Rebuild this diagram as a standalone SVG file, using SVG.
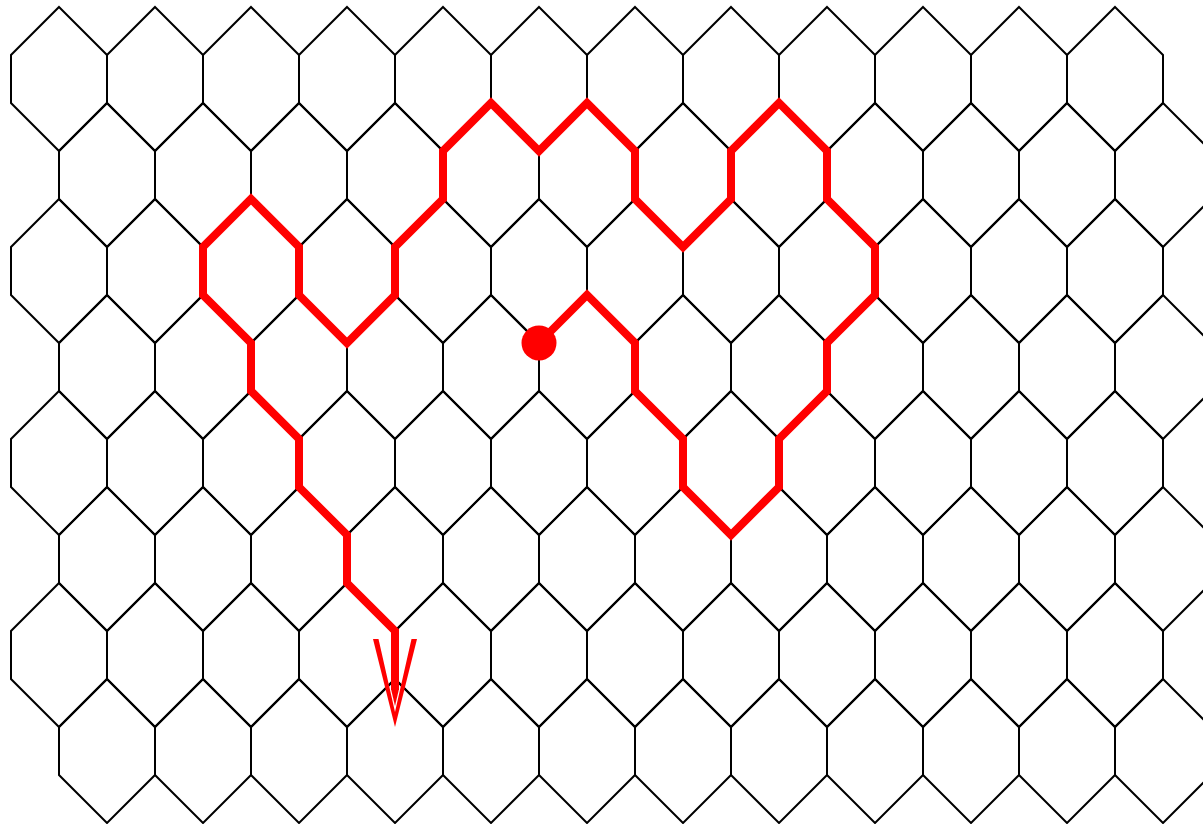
<svg xmlns="http://www.w3.org/2000/svg" xmlns:xlink="http://www.w3.org/1999/xlink" width="1203" height="824" viewBox="0 0 1203 824">
<style>
.hex{fill:none;stroke:#000;stroke-width:2;stroke-linejoin:miter}
.path{fill:none;stroke:#ff0000;stroke-width:8;stroke-linejoin:miter;stroke-miterlimit:10}
.head{fill:#ff0000;stroke:none}
</style>
<defs>
<path id="h" class="hex" d="M0,0 L48,48 L48,96 L0,144 L-48,96 L-48,48 Z"/>
</defs>
<rect width="1203" height="824" fill="#fff"/>
<g id="grid">
<g id="row0" transform="translate(59,7)">
<use xlink:href="#h" x="0"/><use xlink:href="#h" x="96"/><use xlink:href="#h" x="192"/><use xlink:href="#h" x="288"/><use xlink:href="#h" x="384"/><use xlink:href="#h" x="480"/><use xlink:href="#h" x="576"/><use xlink:href="#h" x="672"/><use xlink:href="#h" x="768"/><use xlink:href="#h" x="864"/><use xlink:href="#h" x="960"/><use xlink:href="#h" x="1056"/>
</g>
<g id="row1" transform="translate(107,103)">
<use xlink:href="#h" x="0"/><use xlink:href="#h" x="96"/><use xlink:href="#h" x="192"/><use xlink:href="#h" x="288"/><use xlink:href="#h" x="384"/><use xlink:href="#h" x="480"/><use xlink:href="#h" x="576"/><use xlink:href="#h" x="672"/><use xlink:href="#h" x="768"/><use xlink:href="#h" x="864"/><use xlink:href="#h" x="960"/><use xlink:href="#h" x="1056"/>
</g>
<g id="row2" transform="translate(59,199)">
<use xlink:href="#h" x="0"/><use xlink:href="#h" x="96"/><use xlink:href="#h" x="192"/><use xlink:href="#h" x="288"/><use xlink:href="#h" x="384"/><use xlink:href="#h" x="480"/><use xlink:href="#h" x="576"/><use xlink:href="#h" x="672"/><use xlink:href="#h" x="768"/><use xlink:href="#h" x="864"/><use xlink:href="#h" x="960"/><use xlink:href="#h" x="1056"/>
</g>
<g id="row3" transform="translate(107,295)">
<use xlink:href="#h" x="0"/><use xlink:href="#h" x="96"/><use xlink:href="#h" x="192"/><use xlink:href="#h" x="288"/><use xlink:href="#h" x="384"/><use xlink:href="#h" x="480"/><use xlink:href="#h" x="576"/><use xlink:href="#h" x="672"/><use xlink:href="#h" x="768"/><use xlink:href="#h" x="864"/><use xlink:href="#h" x="960"/><use xlink:href="#h" x="1056"/>
</g>
<g id="row4" transform="translate(59,391)">
<use xlink:href="#h" x="0"/><use xlink:href="#h" x="96"/><use xlink:href="#h" x="192"/><use xlink:href="#h" x="288"/><use xlink:href="#h" x="384"/><use xlink:href="#h" x="480"/><use xlink:href="#h" x="576"/><use xlink:href="#h" x="672"/><use xlink:href="#h" x="768"/><use xlink:href="#h" x="864"/><use xlink:href="#h" x="960"/><use xlink:href="#h" x="1056"/>
</g>
<g id="row5" transform="translate(107,487)">
<use xlink:href="#h" x="0"/><use xlink:href="#h" x="96"/><use xlink:href="#h" x="192"/><use xlink:href="#h" x="288"/><use xlink:href="#h" x="384"/><use xlink:href="#h" x="480"/><use xlink:href="#h" x="576"/><use xlink:href="#h" x="672"/><use xlink:href="#h" x="768"/><use xlink:href="#h" x="864"/><use xlink:href="#h" x="960"/><use xlink:href="#h" x="1056"/>
</g>
<g id="row6" transform="translate(59,583)">
<use xlink:href="#h" x="0"/><use xlink:href="#h" x="96"/><use xlink:href="#h" x="192"/><use xlink:href="#h" x="288"/><use xlink:href="#h" x="384"/><use xlink:href="#h" x="480"/><use xlink:href="#h" x="576"/><use xlink:href="#h" x="672"/><use xlink:href="#h" x="768"/><use xlink:href="#h" x="864"/><use xlink:href="#h" x="960"/><use xlink:href="#h" x="1056"/>
</g>
<g id="row7" transform="translate(107,679)">
<use xlink:href="#h" x="0"/><use xlink:href="#h" x="96"/><use xlink:href="#h" x="192"/><use xlink:href="#h" x="288"/><use xlink:href="#h" x="384"/><use xlink:href="#h" x="480"/><use xlink:href="#h" x="576"/><use xlink:href="#h" x="672"/><use xlink:href="#h" x="768"/><use xlink:href="#h" x="864"/><use xlink:href="#h" x="960"/><use xlink:href="#h" x="1056"/>
</g>
</g>
<g id="route">
<polyline class="path" points="539,343 587,295 635,343 635,391 683,439 683,487 731,535 779,487 779,439 827,391 827,343 875,295 875,247 827,199 827,151 779,103 731,151 731,199 683,247 635,199 635,151 587,103 539,151 491,103 443,151 443,199 395,247 395,295 347,343 299,295 299,247 251,199 203,247 203,295 251,343 251,391 299,439 299,487 347,535 347,583 395,631 395,690"/>
<polygon class="head" points="373,639 378.5,639 395,712 411.5,639 417,639 395,727"/>
<polygon class="head" points="391,689 399,689 395,706"/>
<circle id="start" cx="539" cy="343" r="17.5" fill="#ff0000"/>
</g>
</svg>
